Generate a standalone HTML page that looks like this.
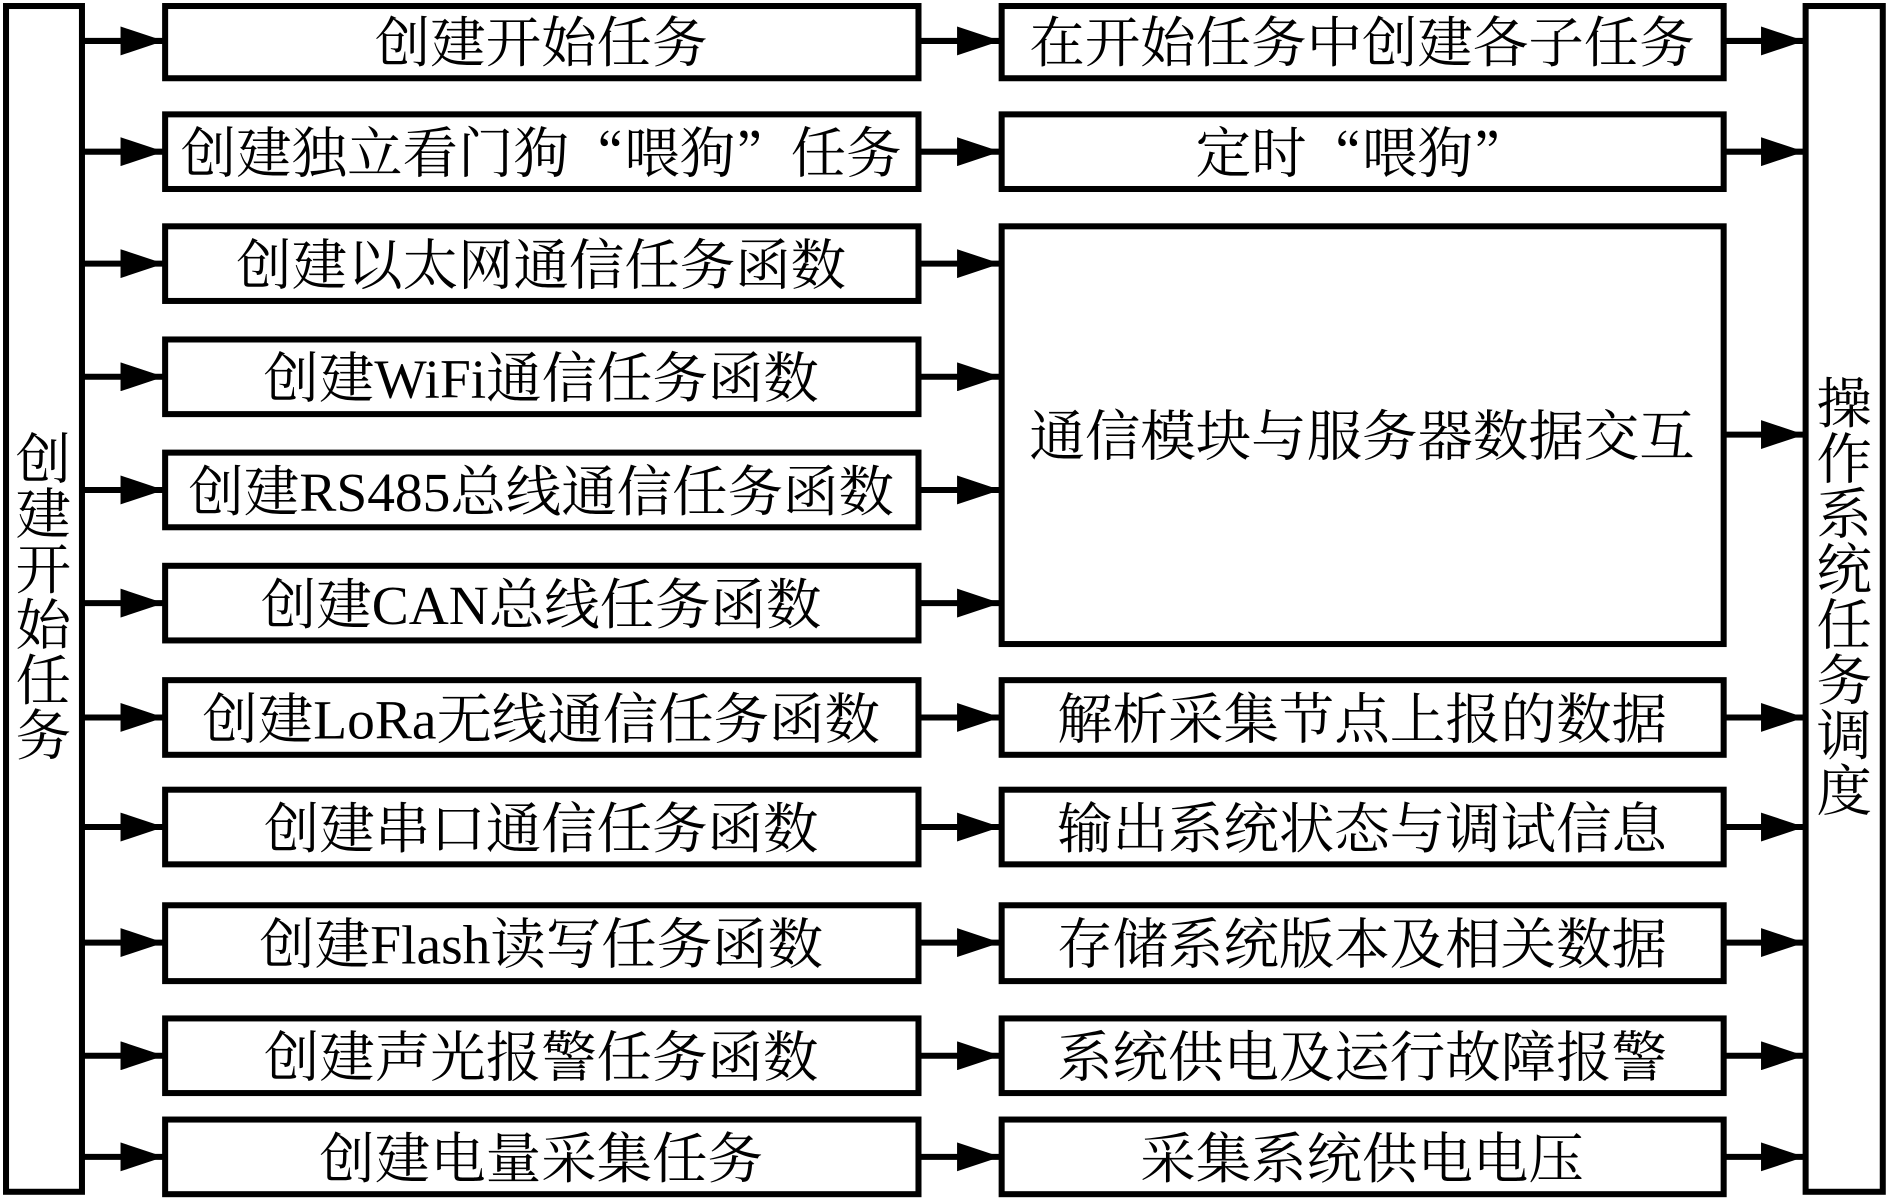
<!DOCTYPE html>
<html><head><meta charset="utf-8"><style>
html,body{margin:0;padding:0;background:#fff;}
svg{display:block;}
text{font-family:"Liberation Serif","Noto Serif CJK SC",serif;font-size:46px;fill:#000;}
.q{font-family:"Noto Serif CJK SC",serif;}
</style></head><body>
<svg width="1890" height="1199" viewBox="0 0 1568 996" preserveAspectRatio="none" xmlns="http://www.w3.org/2000/svg">
<defs>
<marker id="a" markerWidth="36" markerHeight="24" refX="35" refY="12" orient="auto" markerUnits="userSpaceOnUse">
<path d="M0,0 L36,12 L0,24 Z" fill="#000"/>
</marker>
</defs>
<g fill="none" stroke="#000" stroke-width="5">
<rect x="5" y="5" width="63" height="985"/>
<rect x="1498" y="5" width="64" height="985"/>
<rect x="137" y="5" width="625" height="60"/>
<rect x="137" y="95" width="625" height="62"/>
<rect x="137" y="188" width="625" height="62"/>
<rect x="137" y="282" width="625" height="62"/>
<rect x="137" y="376" width="625" height="62"/>
<rect x="137" y="470" width="625" height="62"/>
<rect x="137" y="565" width="625" height="62"/>
<rect x="137" y="656" width="625" height="62"/>
<rect x="137" y="752" width="625" height="63"/>
<rect x="137" y="846" width="625" height="62"/>
<rect x="137" y="930" width="625" height="62"/>
<rect x="831" y="5" width="599" height="60"/>
<rect x="831" y="95" width="599" height="62"/>
<rect x="831" y="188" width="599" height="347"/>
<rect x="831" y="565" width="599" height="62"/>
<rect x="831" y="656" width="599" height="62"/>
<rect x="831" y="752" width="599" height="63"/>
<rect x="831" y="846" width="599" height="62"/>
<rect x="831" y="930" width="599" height="62"/>
</g>
<g stroke="#000" stroke-width="5" marker-end="url(#a)">
<line x1="68" y1="34" x2="135" y2="34"/>
<line x1="68" y1="126" x2="135" y2="126"/>
<line x1="68" y1="219" x2="135" y2="219"/>
<line x1="68" y1="313" x2="135" y2="313"/>
<line x1="68" y1="407" x2="135" y2="407"/>
<line x1="68" y1="501" x2="135" y2="501"/>
<line x1="68" y1="596" x2="135" y2="596"/>
<line x1="68" y1="687" x2="135" y2="687"/>
<line x1="68" y1="783" x2="135" y2="783"/>
<line x1="68" y1="877" x2="135" y2="877"/>
<line x1="68" y1="961" x2="135" y2="961"/>
<line x1="762" y1="34" x2="829" y2="34"/>
<line x1="762" y1="126" x2="829" y2="126"/>
<line x1="762" y1="219" x2="829" y2="219"/>
<line x1="762" y1="313" x2="829" y2="313"/>
<line x1="762" y1="407" x2="829" y2="407"/>
<line x1="762" y1="501" x2="829" y2="501"/>
<line x1="762" y1="596" x2="829" y2="596"/>
<line x1="762" y1="687" x2="829" y2="687"/>
<line x1="762" y1="783" x2="829" y2="783"/>
<line x1="762" y1="877" x2="829" y2="877"/>
<line x1="762" y1="961" x2="829" y2="961"/>
<line x1="1430" y1="34" x2="1496" y2="34"/>
<line x1="1430" y1="126" x2="1496" y2="126"/>
<line x1="1430" y1="361" x2="1496" y2="361"/>
<line x1="1430" y1="596" x2="1496" y2="596"/>
<line x1="1430" y1="687" x2="1496" y2="687"/>
<line x1="1430" y1="783" x2="1496" y2="783"/>
<line x1="1430" y1="877" x2="1496" y2="877"/>
<line x1="1430" y1="961" x2="1496" y2="961"/>
</g>
<g text-anchor="middle" dominant-baseline="central">
<text x="449" y="36">创建开始任务</text>
<text x="449" y="128">创建独立看门狗<tspan class="q">“</tspan>喂狗<tspan class="q">”</tspan>任务</text>
<text x="449" y="221">创建以太网通信任务函数</text>
<text x="449" y="315">创建WiFi通信任务函数</text>
<text x="449" y="409">创建RS485总线通信任务函数</text>
<text x="449" y="503">创建CAN总线任务函数</text>
<text x="449" y="598">创建LoRa无线通信任务函数</text>
<text x="449" y="689">创建串口通信任务函数</text>
<text x="449" y="785">创建Flash读写任务函数</text>
<text x="449" y="879">创建声光报警任务函数</text>
<text x="449" y="963">创建电量采集任务</text>
<text x="1130" y="36">在开始任务中创建各子任务</text>
<text x="1130" y="128">定时<tspan class="q">“</tspan>喂狗<tspan class="q">”</tspan></text>
<text x="1130" y="363">通信模块与服务器数据交互</text>
<text x="1130" y="598">解析采集节点上报的数据</text>
<text x="1130" y="689">输出系统状态与调试信息</text>
<text x="1130" y="785">存储系统版本及相关数据</text>
<text x="1130" y="879">系统供电及运行故障报警</text>
<text x="1130" y="963">采集系统供电电压</text>
<text x="36" y="382">创</text>
<text x="36" y="428">建</text>
<text x="36" y="474">开</text>
<text x="36" y="520">始</text>
<text x="36" y="566">任</text>
<text x="36" y="612">务</text>
<text x="1530" y="336">操</text>
<text x="1530" y="382">作</text>
<text x="1530" y="428">系</text>
<text x="1530" y="474">统</text>
<text x="1530" y="520">任</text>
<text x="1530" y="566">务</text>
<text x="1530" y="612">调</text>
<text x="1530" y="658">度</text>
</g>
</svg>
</body></html>
